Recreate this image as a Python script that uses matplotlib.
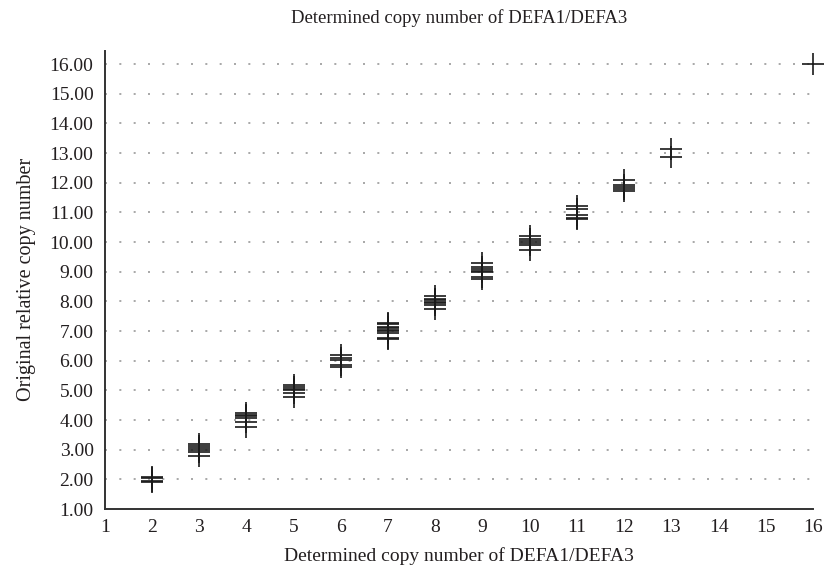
import matplotlib
matplotlib.use("Agg")
import matplotlib.pyplot as plt

# Data: determined copy number (x) vs original relative copy number (y)
cn2 = [2.08, 2.04, 1.96, 1.92]
cn3 = [3.20, 3.14, 3.07, 3.00, 2.93, 2.80]
cn4 = [4.22, 4.17, 4.12, 4.06, 3.92, 3.77]
cn5 = [5.17, 5.12, 5.06, 5.00, 4.90, 4.77]
cn6 = [6.20, 6.10, 6.03, 5.85, 5.78]
cn7 = [7.28, 7.22, 7.15, 7.10, 7.05, 7.00, 6.95, 6.78, 6.74]
cn8 = [8.18, 8.08, 8.03, 7.98, 7.93, 7.87, 7.75]
cn9 = [9.30, 9.17, 9.10, 9.03, 8.98, 8.83, 8.76]
cn10 = [10.20, 10.10, 10.03, 9.97, 9.90, 9.72]
cn11 = [11.20, 11.12, 10.90, 10.82, 10.77]
cn12 = [12.08, 11.93, 11.87, 11.80, 11.72]
cn13 = [13.12, 12.88]
cn16 = [16.00]

groups = {2: cn2, 3: cn3, 4: cn4, 5: cn5, 6: cn6, 7: cn7, 8: cn8,
          9: cn9, 10: cn10, 11: cn11, 12: cn12, 13: cn13, 16: cn16}

x_ticks = list(range(1, 17))
y_ticks = list(range(1, 17))

title = "Determined copy number of DEFA1/DEFA3"
xlabel = "Determined copy number of DEFA1/DEFA3"
ylabel = "Original relative copy number"

plt.rcParams['font.family'] = ['Liberation Serif', 'DejaVu Serif']

fig = plt.figure(figsize=(8.24, 5.69), dpi=100)
ax = fig.add_axes([104.7 / 824, 1 - 509 / 569, (813 - 104.7) / 824, (509 - 50.7) / 569])

xs, ys = [], []
for k, vals in groups.items():
    for v in vals:
        xs.append(k)
        ys.append(v)
ax.plot(xs, ys, linestyle='none', marker='+', markersize=15.8,
        markeredgewidth=1.2, color='#1a1a1a', clip_on=False, zorder=3)

ax.set_xlim(1, 16)
ax.set_ylim(1, 16.45)
ax.set_xticks(x_ticks)
ax.set_xticklabels([str(t) for t in x_ticks])
ax.set_yticks(y_ticks)
ax.set_yticklabels([f"{t:.2f}" for t in y_ticks])
ax.tick_params(axis='y', length=0, labelsize=14, colors='#231f20', pad=8)
ax.tick_params(axis='x', length=0, labelsize=14, colors='#231f20', pad=7)

for y in y_ticks[1:]:
    ax.axhline(y, color='#9a9a9a', linewidth=1.2, linestyle=(0, (1.2, 7.4)), zorder=1)

for s in ['top', 'right']:
    ax.spines[s].set_visible(False)
for s in ['left', 'bottom']:
    ax.spines[s].set_color('#333333')
    ax.spines[s].set_linewidth(1.4)

ax.set_title(title, fontsize=13.5, color='#231f20', pad=20)
ax.set_xlabel(xlabel, fontsize=14, color='#231f20', labelpad=8)
ax.set_ylabel(ylabel, fontsize=14.5, color='#231f20', labelpad=10)

fig.savefig("out.png", dpi=100)
